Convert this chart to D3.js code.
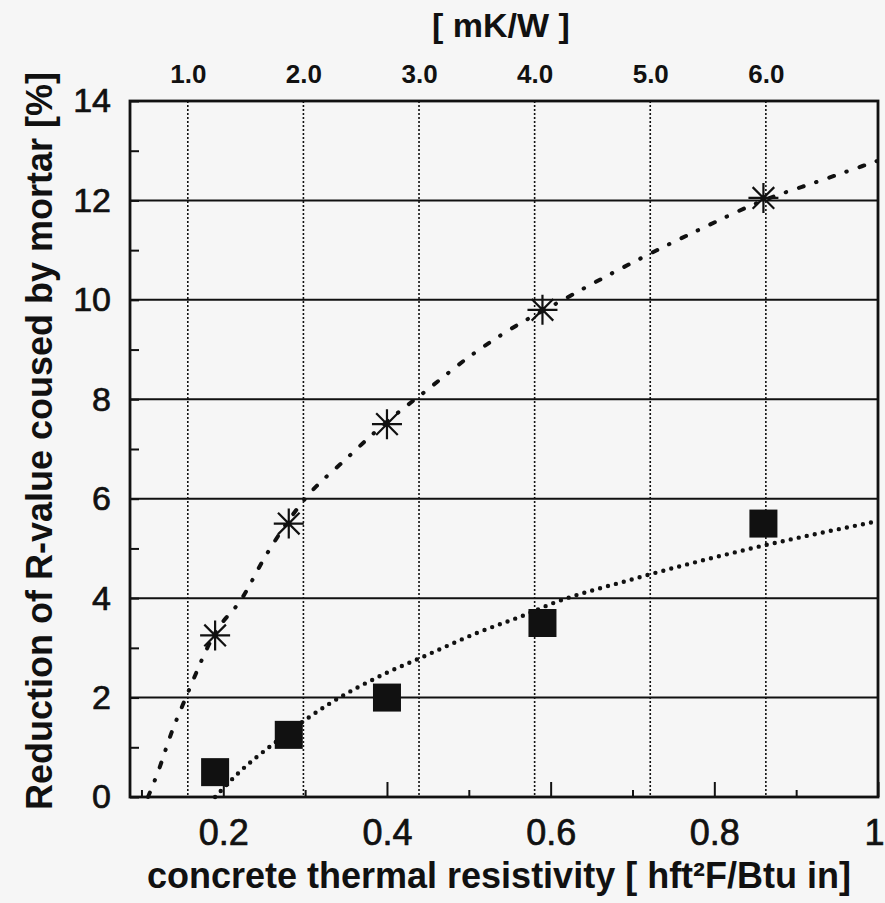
<!DOCTYPE html>
<html>
<head>
<meta charset="utf-8">
<script src="https://cdn.jsdelivr.net/npm/d3@7"></script>
<style>
  body { margin: 0; background: #f6f6f6; }
  text { font-family: "Liberation Sans", Arial, sans-serif; fill: #111; }
</style>
</head>
<body>
<div class="chart"></div>
<script>
// measured points (same x for both series)
var resistivity = [0.19, 0.28, 0.40, 0.59, 0.86];
var asteriskVals = [3.25, 5.5, 7.5, 9.8, 12.05];
var squareVals = [0.5, 1.25, 2.0, 3.5, 5.5];

// fitted curves
var dashFitX = [0.108, 0.119, 0.138, 0.153, 0.19, 0.223, 0.25, 0.30, 0.35, 0.40, 0.45, 0.50, 0.55, 0.615, 0.70, 0.78, 0.86, 0.93, 1.0];
var dashFitY = [0, 0.45, 1.35, 1.95, 3.3, 4.0, 4.8, 6.0, 6.8, 7.55, 8.2, 8.85, 9.4, 10.0, 10.75, 11.4, 12.0, 12.4, 12.8];
var dotFitX = [0.19, 0.217, 0.266, 0.33, 0.40, 0.444, 0.51, 0.568, 0.60, 0.70, 0.84, 1.0];
var dotFitY = [0, 0.46, 1.13, 1.88, 2.5, 2.82, 3.3, 3.66, 3.88, 4.38, 4.98, 5.55];

var yTicks = [0, 2, 4, 6, 8, 10, 12, 14];
var xTicks = [0.2, 0.4, 0.6, 0.8, 1];
var xTickLabels = ["0.2", "0.4", "0.6", "0.8", "1"];
var xMinorTicks = [0.1, 0.3, 0.5, 0.7, 0.9];
var topTicks = [1, 2, 3, 4, 5, 6];
var topTickLabels = ["1.0", "2.0", "3.0", "4.0", "5.0", "6.0"];

var margin = {top: 101, right: 7, bottom: 106, left: 130},
    width = 885 - margin.left - margin.right,
    height = 903 - margin.top - margin.bottom;

var x = d3.scaleLinear().domain([0.086, 1.0]).range([0, width]);
var xTop = d3.scaleLinear().domain([0.5, 6.97]).range([0, width]);
var y = d3.scaleLinear().domain([0, 14]).range([height, 0]);

var svg = d3.select(".chart").append("svg")
    .attr("width", 885)
    .attr("height", 903)
    .style("display", "block")
  .append("g")
    .attr("transform", "translate(" + margin.left + "," + margin.top + ")");

// grid
svg.selectAll(".hgrid")
    .data(yTicks.filter(function(d) { return d > 0 && d < 14; }))
  .enter().append("line")
    .attr("x1", 0).attr("x2", width)
    .attr("y1", function(d) { return y(d); })
    .attr("y2", function(d) { return y(d); })
    .attr("stroke", "#111")
    .attr("stroke-width", 2);

svg.selectAll(".vgrid")
    .data(topTicks)
  .enter().append("line")
    .attr("x1", function(d) { return xTop(d); })
    .attr("x2", function(d) { return xTop(d); })
    .attr("y1", 0).attr("y2", height)
    .attr("stroke", "#111")
    .attr("stroke-width", 1.6)
    .attr("stroke-dasharray", "2,2");

// axes
var yAxis = d3.axisLeft(y)
    .tickValues(d3.range(0, 15, 1))
    .tickSize(-9)
    .tickPadding(19)
    .tickFormat(function(d) { return d % 2 == 0 ? d : ""; });

var gy = svg.append("g").call(yAxis);
gy.selectAll("text").style("font-size", "34px");

var gxMinor = svg.append("g")
    .attr("transform", "translate(0," + height + ")")
    .call(d3.axisBottom(x).tickValues(xMinorTicks).tickSize(-7).tickFormat(""));

var gx = svg.append("g")
    .attr("transform", "translate(0," + height + ")")
    .call(d3.axisBottom(x).tickValues(xTicks).tickSize(-15).tickPadding(22)
      .tickFormat(function(d, i) { return xTickLabels[i]; }));
gx.selectAll("text").style("font-size", "36px");
// last label sits at the clipped right edge, keep it inside
gx.selectAll("text").filter(function(d) { return d == 1; })
    .attr("text-anchor", "end")
    .attr("x", 885 - margin.left - x(1) - 1);

var gtop = svg.append("g")
    .call(d3.axisTop(xTop).tickValues(topTicks).tickSize(0).tickPadding(18)
      .tickFormat(function(d, i) { return topTickLabels[i]; }));
gtop.selectAll("text").style("font-size", "26px").style("font-weight", "bold");

[gy, gxMinor, gx, gtop].forEach(function(g) {
  g.select(".domain").remove();
  g.selectAll("line").attr("stroke", "#111").attr("stroke-width", 2);
  g.selectAll("text").attr("fill", "#111");
});
// scanned digits look heavier than plain regular
[gy, gx].forEach(function(g) {
  g.selectAll("text").attr("stroke", "#111").attr("stroke-width", 0.7);
});

// frame
svg.append("rect")
    .attr("width", width)
    .attr("height", height)
    .attr("fill", "none")
    .attr("stroke", "#111")
    .attr("stroke-width", 2.8);

// fitted curves
var line = d3.line()
    .x(function(d) { return x(d[0]); })
    .y(function(d) { return y(d[1]); })
    .curve(d3.curveMonotoneX);

svg.append("path")
    .datum(d3.zip(dashFitX, dashFitY))
    .attr("d", line)
    .attr("fill", "none")
    .attr("stroke", "#111")
    .attr("stroke-width", 4)
    .attr("stroke-linecap", "round")
    .attr("stroke-dasharray", "5,13,0.5,13.5");

svg.append("path")
    .datum(d3.zip(dotFitX, dotFitY))
    .attr("d", line)
    .attr("fill", "none")
    .attr("stroke", "#111")
    .attr("stroke-width", 4.4)
    .attr("stroke-linecap", "round")
    .attr("stroke-dasharray", "0,8.2");

// markers
var sq = 28;
svg.selectAll(".sq")
    .data(d3.zip(resistivity, squareVals))
  .enter().append("rect")
    .attr("x", function(d) { return x(d[0]) - sq / 2; })
    .attr("y", function(d) { return y(d[1]) - sq / 2; })
    .attr("width", sq)
    .attr("height", sq)
    .attr("fill", "#111");

var r = 15, rd = r * 0.72;
var star = "M0," + (-r) + "V" + r + "M" + (-r) + ",0H" + r +
    "M" + (-rd) + "," + (-rd) + "L" + rd + "," + rd +
    "M" + (-rd) + "," + rd + "L" + rd + "," + (-rd);

svg.selectAll(".star")
    .data(d3.zip(resistivity, asteriskVals))
  .enter().append("path")
    .attr("transform", function(d) { return "translate(" + x(d[0]) + "," + y(d[1]) + ")"; })
    .attr("d", star)
    .attr("fill", "none")
    .attr("stroke", "#111")
    .attr("stroke-width", 2.2);

// titles
svg.append("text")
    .attr("x", 501 - margin.left)
    .attr("y", 37 - margin.top)
    .attr("text-anchor", "middle")
    .style("font-size", "34px")
    .style("font-weight", "bold")
    .text("[ mK/W ]");

svg.append("text")
    .attr("x", 499 - margin.left)
    .attr("y", 888 - margin.top)
    .attr("text-anchor", "middle")
    .style("font-size", "36px")
    .style("font-weight", "bold")
    .text("concrete thermal resistivity [ hft\u00b2F/Btu in]");

svg.append("text")
    .attr("transform", "translate(" + (52 - margin.left) + "," + (441 - margin.top) + ") rotate(-90)")
    .attr("text-anchor", "middle")
    .style("font-size", "36px")
    .style("font-weight", "bold")
    .text("Reduction of R-value coused by mortar [%]");
</script>
</body>
</html>
